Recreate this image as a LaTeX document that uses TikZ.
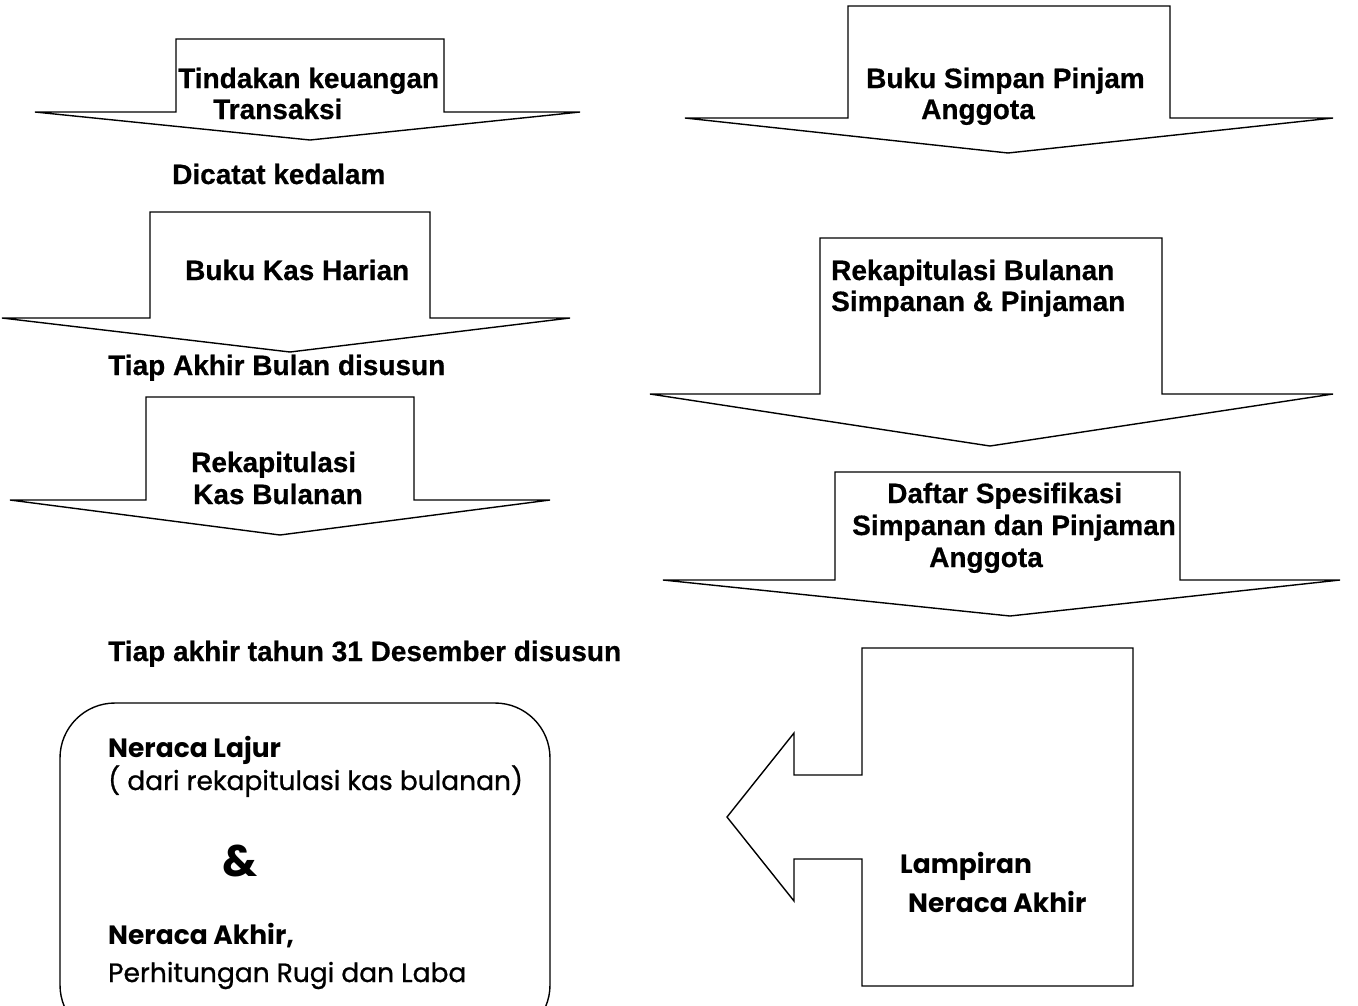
\documentclass[tikz,border=0pt]{standalone}
\usepackage{fontspec}
\setmainfont{Liberation Sans}[BoldFeatures={FakeBold=0.6}]
\newfontfamily\geo{Poppins}
\newfontfamily\geomid{Poppins}[FakeBold=0.8]
\begin{document}
\begin{tikzpicture}[x=1pt,y=-1pt,
  blk/.style={draw=black,line width=1.4pt,line join=miter,fill=white},
  lbl/.style={anchor=base west,inner sep=0pt,font=\fontsize{28}{30}\selectfont\bfseries},
  glbl/.style={anchor=base west,inner sep=0pt,font=\fontsize{26.5}{28}\selectfont\geo\bfseries},
  gtxt/.style={anchor=base west,inner sep=0pt,font=\fontsize{26.5}{28}\selectfont\geomid}]
\useasboundingbox (0,0) rectangle (1358,1005);
% left column arrows
\draw[blk] (176,39) -- (444,39) -- (444,112) -- (580,112) -- (310,140) -- (35,112) -- (176,112) -- cycle;
\draw[blk] (150,212) -- (430,212) -- (430,318) -- (570,318) -- (290,352) -- (2,318) -- (150,318) -- cycle;
\draw[blk] (146,397) -- (414,397) -- (414,500) -- (550,500) -- (280,535) -- (10,500) -- (146,500) -- cycle;
% right column arrows
\draw[blk] (848,6) -- (1170,6) -- (1170,118) -- (1333,118) -- (1008,153) -- (685,118) -- (848,118) -- cycle;
\draw[blk] (820,238) -- (1162,238) -- (1162,394) -- (1333,394) -- (990,446) -- (650,394) -- (820,394) -- cycle;
\draw[blk] (835,472) -- (1180,472) -- (1180,580) -- (1340,580) -- (1010,616) -- (663,580) -- (835,580) -- cycle;
% left-pointing arrow
\draw[blk] (862,648) -- (1133,648) -- (1133,986) -- (862,986) -- (862,859) -- (794,859) -- (794,901) -- (727,817) -- (794,733) -- (794,775) -- (862,775) -- cycle;
% rounded box
\draw[blk,rounded corners=55pt] (60,703) rectangle (550,1040);
% texts
\node[lbl] (t1) at (178,88) {Tindakan keuangan};
\node[lbl] (t2) at (213,119) {Transaksi};
\node[lbl] (t3) at (172,184) {Dicatat kedalam};
\node[lbl] (t4) at (185,280) {Buku Kas Harian};
\node[lbl] (t5) at (108,375) {Tiap Akhir Bulan disusun};
\node[lbl] (t6) at (191,472) {Rekapitulasi};
\node[lbl] (t7) at (193,504) {Kas Bulanan};
\node[lbl] (t8) at (108,661) {Tiap akhir tahun 31 Desember disusun};
\node[lbl] (r1) at (866,88) {Buku Simpan Pinjam};
\node[lbl] (r2) at (921,119) {Anggota};
\node[lbl] (r3) at (831,280) {Rekapitulasi Bulanan};
\node[lbl] (r4) at (831,311) {Simpanan \& Pinjaman};
\node[lbl] (r5) at (887,503) {Daftar Spesifikasi};
\node[lbl] (r6) at (852,535) {Simpanan dan Pinjaman};
\node[lbl] (r7) at (929,567) {Anggota};
\node[glbl] (l1) at (900,873) {Lampiran};
\node[glbl] (l2) at (908,912) {Neraca Akhir};
\node[glbl] (b1) at (108,757) {Neraca Lajur};
\node[gtxt] (b2) at (108,790) {( dari rekapitulasi kas bulanan)};
\node[anchor=base west,inner sep=0pt,font=\fontsize{44}{48}\selectfont\geo\bfseries] (b3) at (222,876) {\&};
\node[glbl] (b4) at (108,944) {Neraca Akhir,};
\node[gtxt] (b5) at (108,982) {Perhitungan Rugi dan Laba};
\end{tikzpicture}
\end{document}
